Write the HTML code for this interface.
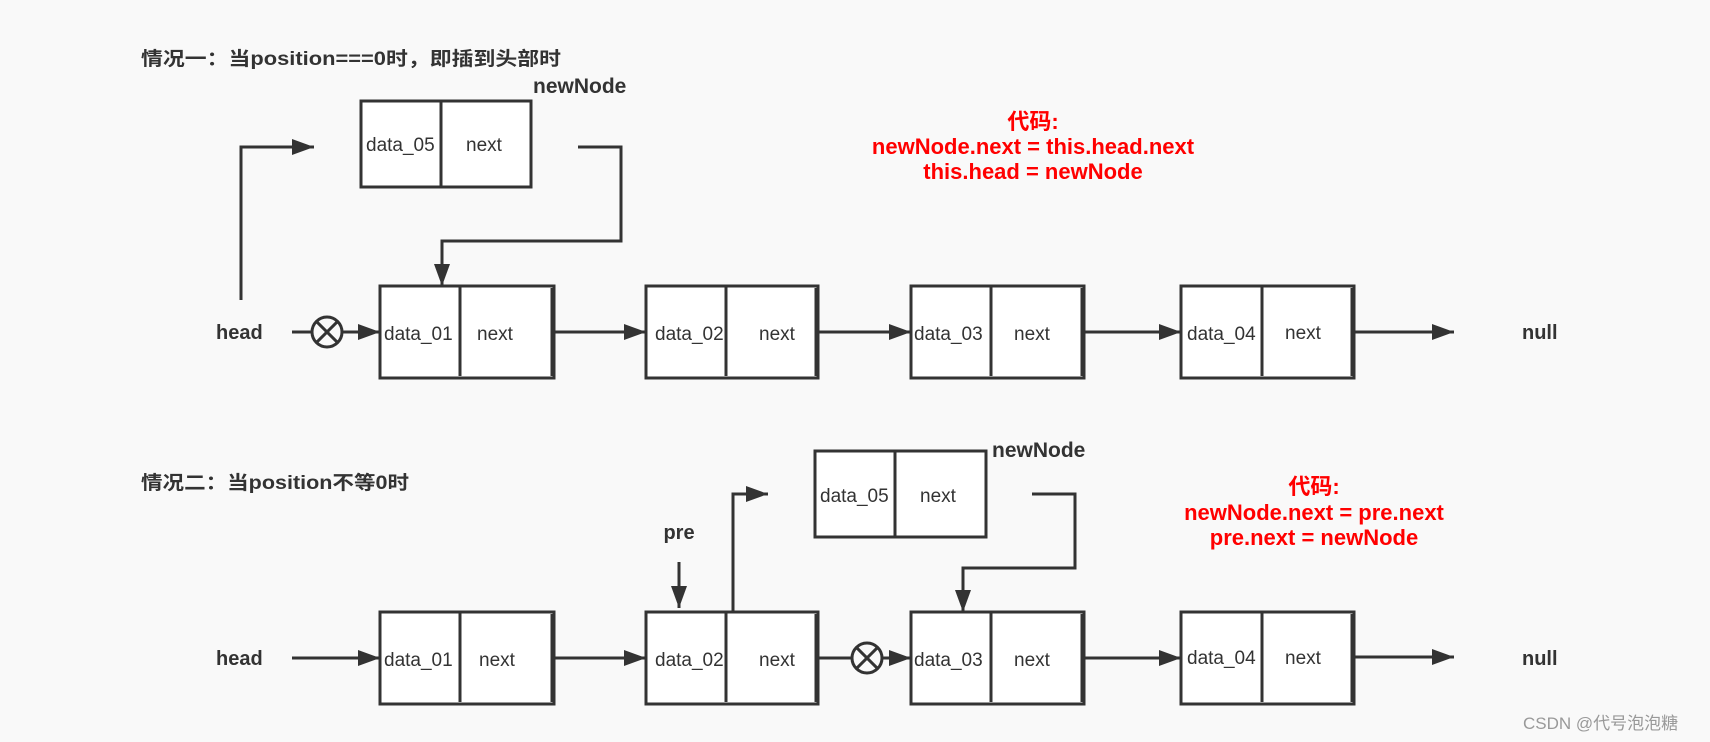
<!DOCTYPE html>
<html><head><meta charset="utf-8"><style>
html,body{margin:0;padding:0;background:#f9f9f9;}
svg{display:block;}
text{font-family:"Liberation Sans","Noto Sans CJK SC",sans-serif;}
</style></head><body>
<svg width="1710" height="742" viewBox="0 0 1710 742" xmlns="http://www.w3.org/2000/svg">
<defs>
<marker id="a" viewBox="0 0 22 16" refX="22" refY="8" markerWidth="22" markerHeight="16" markerUnits="userSpaceOnUse" orient="auto">
<path d="M0,0 L22,8 L0,16 z" fill="#333"/>
</marker>
</defs>
<rect width="1710" height="742" fill="#f9f9f9"/>
<text x="141" y="65" font-size="19" font-weight="bold" fill="#333" textLength="420" lengthAdjust="spacingAndGlyphs">情况一：当position===0时，即插到头部时</text>
<text x="533" y="93" font-size="21" font-weight="bold" fill="#333">newNode</text>
<text x="141" y="489" font-size="19" font-weight="bold" fill="#333" textLength="268" lengthAdjust="spacingAndGlyphs">情况二：当position不等0时</text>
<text x="992" y="457" font-size="21" font-weight="bold" fill="#333">newNode</text>

<g font-size="22" font-weight="bold" fill="#f00" text-anchor="middle">
<text x="1033" y="129">代码:</text>
<text x="1033" y="154">newNode.next = this.head.next</text>
<text x="1033" y="179">this.head = newNode</text>
<text x="1314" y="494">代码:</text>
<text x="1314" y="520">newNode.next = pre.next</text>
<text x="1314" y="545">pre.next = newNode</text>
</g>

<g font-size="20" font-weight="bold" fill="#333">
<text x="216" y="339">head</text>
<text x="1522" y="339">null</text>
<text x="216" y="665">head</text>
<text x="1522" y="665">null</text>
<text x="679" y="539" text-anchor="middle">pre</text>
</g>

<g stroke="#333" stroke-width="3" fill="#fff">
<rect x="380" y="286" width="174" height="92"/>
<rect x="646" y="286" width="172" height="92"/>
<rect x="911" y="286" width="173" height="92"/>
<rect x="1181" y="286" width="173" height="92"/>
<rect x="380" y="612" width="174" height="92"/>
<rect x="646" y="612" width="172" height="92"/>
<rect x="911" y="612" width="173" height="92"/>
<rect x="1181" y="612" width="173" height="92"/>
<rect x="361" y="101" width="170" height="86"/>
<rect x="815" y="451" width="171" height="86"/>
</g>
<g stroke="#333" stroke-width="3">
<line x1="460" y1="286" x2="460" y2="376"/>
<line x1="726" y1="286" x2="726" y2="376"/>
<line x1="991" y1="286" x2="991" y2="376"/>
<line x1="1262" y1="286" x2="1262" y2="376"/>
<line x1="460" y1="612" x2="460" y2="702"/>
<line x1="726" y1="612" x2="726" y2="702"/>
<line x1="991" y1="612" x2="991" y2="702"/>
<line x1="1262" y1="612" x2="1262" y2="702"/>
<line x1="441" y1="101" x2="441" y2="187"/>
<line x1="895" y1="451" x2="895" y2="537"/>
<line x1="552" y1="288" x2="552" y2="376"/>
<line x1="816" y1="288" x2="816" y2="376"/>
<line x1="1082" y1="288" x2="1082" y2="376"/>
<line x1="1352" y1="288" x2="1352" y2="376"/>
<line x1="552" y1="614" x2="552" y2="702"/>
<line x1="816" y1="614" x2="816" y2="702"/>
<line x1="1082" y1="614" x2="1082" y2="702"/>
<line x1="1352" y1="614" x2="1352" y2="702"/>
</g>

<g font-size="19" fill="#333">
<text x="366" y="151">data_05</text><text x="466" y="151">next</text>
<text x="384" y="340">data_01</text><text x="477" y="340">next</text>
<text x="655" y="340">data_02</text><text x="759" y="340">next</text>
<text x="914" y="340">data_03</text><text x="1014" y="340">next</text>
<text x="1187" y="340">data_04</text><text x="1285" y="339">next</text>
<text x="820" y="502">data_05</text><text x="920" y="502">next</text>
<text x="384" y="666">data_01</text><text x="479" y="666">next</text>
<text x="655" y="666">data_02</text><text x="759" y="666">next</text>
<text x="914" y="666">data_03</text><text x="1014" y="666">next</text>
<text x="1187" y="664">data_04</text><text x="1285" y="664">next</text>
</g>

<g fill="none" stroke="#333" stroke-width="3" marker-end="url(#a)">
<polyline points="241,300 241,147 314,147"/>
<polyline points="578,147 621,147 621,241 442,241 442,286"/>
<line x1="342" y1="332" x2="380" y2="332"/>
<line x1="554" y1="332" x2="646" y2="332"/>
<line x1="818" y1="332" x2="911" y2="332"/>
<line x1="1084" y1="332" x2="1181" y2="332"/>
<line x1="1354" y1="332" x2="1454" y2="332"/>
<polyline points="733,611 733,494 768,494"/>
<polyline points="1032,494 1075,494 1075,568 963,568 963,612"/>
<line x1="679" y1="562" x2="679" y2="608"/>
<line x1="292" y1="658" x2="380" y2="658"/>
<line x1="554" y1="658" x2="646" y2="658"/>
<line x1="882" y1="658" x2="911" y2="658"/>
<line x1="1084" y1="658" x2="1181" y2="658"/>
<line x1="1354" y1="657" x2="1454" y2="657"/>
</g>
<g fill="none" stroke="#333" stroke-width="3">
<line x1="292" y1="332" x2="312" y2="332"/>
<line x1="818" y1="658" x2="852" y2="658"/>
<circle cx="327" cy="332" r="15"/>
<line x1="316.4" y1="321.4" x2="337.6" y2="342.6"/>
<line x1="337.6" y1="321.4" x2="316.4" y2="342.6"/>
<circle cx="867" cy="658" r="15"/>
<line x1="856.4" y1="647.4" x2="877.6" y2="668.6"/>
<line x1="877.6" y1="647.4" x2="856.4" y2="668.6"/>
</g>
<text x="1523" y="729" font-size="17" fill="#999">CSDN @代号泡泡糖</text>
</svg>
</body></html>
